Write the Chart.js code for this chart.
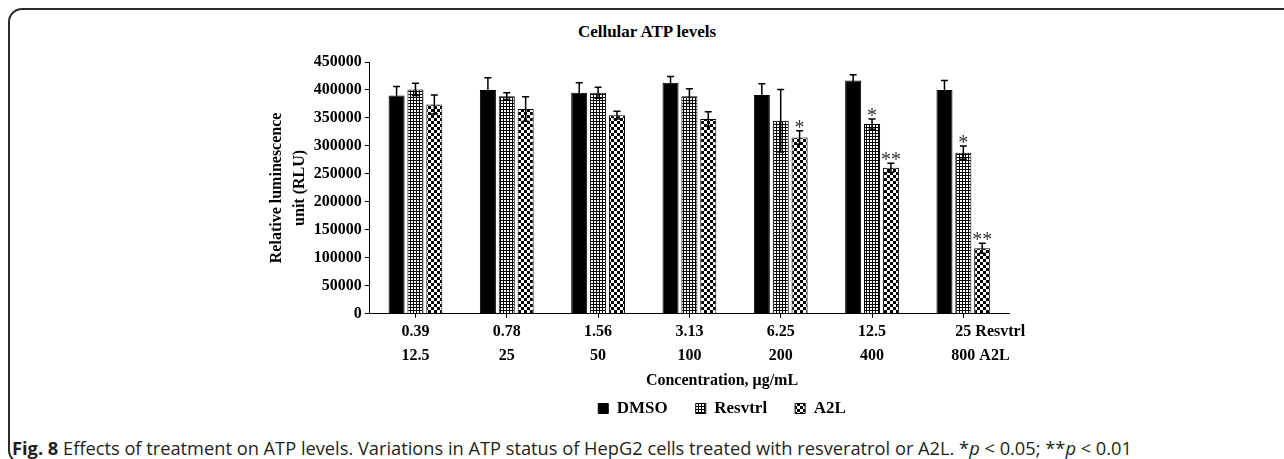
<!DOCTYPE html>
<html>
<head>
<meta charset="utf-8">
<script src="https://cdn.jsdelivr.net/npm/chart.js@4.4.1/dist/chart.umd.min.js"></script>
<style>
  html, body { margin: 0; padding: 0; background: #fff; }
  body { width: 1284px; height: 459px; position: relative; overflow: hidden; }
  #frame {
    position: absolute; left: 8px; top: 8px; width: 1300px; height: 456px;
    border: 2px solid #2b2b2b; border-radius: 14px; box-sizing: border-box;
  }
  #title {
    position: absolute; top: 22px; left: 447px; width: 400px; text-align: center;
    font: bold 17px "Liberation Serif", serif; color: #000;
  }
  #wrap { position: absolute; left: 200px; top: 40px; width: 1044px; height: 387px; }
  #caption {
    position: absolute; left: 12px; top: 435px; white-space: nowrap;
    font: 18.25px "Open Sans", sans-serif; color: #231f20;
  }
  #caption b { font-weight: 700; }
</style>
</head>
<body>
<div id="frame"></div>
<div id="title">Cellular ATP levels</div>
<div id="wrap"><canvas id="atpChart"></canvas></div>
<div id="caption"><b>Fig. 8</b> Effects of treatment on ATP levels. Variations in ATP status of HepG2 cells treated with resveratrol or A2L. *<i>p</i> &lt; 0.05; **<i>p</i> &lt; 0.01</div>

<script>
// concentrations (µg/mL): resveratrol row and A2L row
const resvConc = ['0.39', '0.78', '1.56', '3.13', '6.25', '12.5', '25'];
const a2lConc = ['12.5', '25', '50', '100', '200', '400', '800'];

// relative luminescence (RLU)
const dmsoVals = [390000, 400000, 395000, 413000, 391000, 417000, 400000];
const dmsoErr = [16000, 22000, 18000, 11000, 20000, 10000, 17000];
const resvVals = [401000, 389000, 395000, 389000, 345000, 339000, 288000];
const resvErr = [11000, 6000, 10000, 13000, 56000, 9000, 12000];
const a2lVals = [374000, 366000, 355000, 348000, 315000, 261000, 117000];
const a2lErr = [17000, 22000, 7000, 13000, 12000, 8000, 9000];

// significance marks
const dmsoSig = ['', '', '', '', '', '', ''];
const resvSig = ['', '', '', '', '', '*', '*'];
const a2lSig = ['', '', '', '', '*', '**', '**'];

const yTicks = [0, 50000, 100000, 150000, 200000, 250000, 300000, 350000, 400000, 450000];

const serif = '"Liberation Serif", "Times New Roman", serif';

function makePattern(kind) {
    const c = document.createElement('canvas');
    const ctx = c.getContext('2d');
    if (kind === 'grid') {
        c.width = 3; c.height = 3;
        ctx.fillStyle = '#fff';
        ctx.fillRect(0, 0, 3, 3);
        ctx.fillStyle = '#000';
        ctx.fillRect(0, 0, 3, 1);
        ctx.fillRect(0, 0, 1, 3);
    } else {
        c.width = 6; c.height = 6;
        ctx.fillStyle = '#fff';
        ctx.fillRect(0, 0, 6, 6);
        ctx.fillStyle = '#000';
        ctx.fillRect(0, 0, 3, 3);
        ctx.fillRect(3, 3, 3, 3);
    }
    return ctx.createPattern(c, 'repeat');
}

// error bars, asterisks and the "Resvtrl"/"A2L" row names
const extras = {
    id: 'extras',
    afterLayout(chart) {
        // legend (with the axis caption as its title) is centred on the whole canvas
        const lg = chart.legend;
        const shift = chart.width / 2 - (lg.left + lg.right) / 2;
        lg.left += shift;
        lg.right += shift;
    },
    afterDatasetsDraw(chart) {
        const ctx = chart.ctx;
        const y = chart.scales.y;
        ctx.save();
        chart.data.datasets.forEach((ds, i) => {
            const meta = chart.getDatasetMeta(i);
            meta.data.forEach((bar, j) => {
                const v = ds.data[j], e = ds.errors[j];
                const top = y.getPixelForValue(v + e);
                const bot = y.getPixelForValue(v - e);
                const x = bar.x;
                ctx.strokeStyle = '#000';
                ctx.lineWidth = 1.5;
                ctx.beginPath();
                ctx.moveTo(x, top); ctx.lineTo(x, bot);
                ctx.moveTo(x - 3.5, top); ctx.lineTo(x + 3.5, top);
                ctx.moveTo(x - 3.5, bot); ctx.lineTo(x + 3.5, bot);
                ctx.stroke();
                if (ds.sig[j]) {
                    ctx.fillStyle = '#333';
                    ctx.font = '20px ' + serif;
                    ctx.textAlign = 'center';
                    ctx.textBaseline = 'alphabetic';
                    ctx.fillText(ds.sig[j], x, top + 3);
                }
            });
        });
        ctx.restore();
    },
    afterDraw(chart) {
        const ctx = chart.ctx;
        const xs = chart.scales.x;
        const last = resvConc.length - 1;
        const cx = xs.getPixelForTick(last);
        ctx.save();
        ctx.font = 'bold 16px ' + serif;
        ctx.fillStyle = '#000';
        ctx.textBaseline = 'middle';
        ctx.textAlign = 'left';
        const y1 = xs.top + 4 + 2 + 12;
        const w1 = ctx.measureText(resvConc[last]).width;
        const w2 = ctx.measureText(a2lConc[last]).width;
        ctx.fillText('Resvtrl', cx + w1 / 2 + 4, y1);
        ctx.fillText('A2L', cx + w2 / 2 + 4, y1 + 24);
        ctx.restore();
    }
};

const ctx = document.getElementById('atpChart').getContext('2d');
new Chart(ctx, {
    type: 'bar',
    data: {
        labels: resvConc.map((r, i) => [r, a2lConc[i]]),
        datasets: [
            { label: 'DMSO', data: dmsoVals, errors: dmsoErr, sig: dmsoSig,
              backgroundColor: '#000', borderColor: '#000', borderWidth: 1 },
            { label: 'Resvtrl', data: resvVals, errors: resvErr, sig: resvSig,
              backgroundColor: makePattern('grid'), borderColor: '#000', borderWidth: 1 },
            { label: 'A2L', data: a2lVals, errors: a2lErr, sig: a2lSig,
              backgroundColor: makePattern('check'), borderColor: '#000', borderWidth: 1 }
        ]
    },
    options: {
        responsive: true,
        maintainAspectRatio: false,
        animation: false,
        datasets: { bar: { categoryPercentage: 0.62, barPercentage: 0.85 } },
        layout: { padding: { top: 22, left: 66, right: 235, bottom: 0 } },
        plugins: {
            tooltip: { enabled: false },
            legend: {
                position: 'bottom',
                title: {
                    display: true,
                    text: 'Concentration, μg/mL',
                    color: '#000',
                    font: { family: serif, size: 16, weight: 'bold' },
                    padding: { top: 3, bottom: -20 }
                },
                labels: {
                    color: '#000',
                    boxWidth: 10,
                    boxHeight: 10,
                    padding: 28,
                    font: { family: serif, size: 17, weight: 'bold' }
                }
            }
        },
        scales: {
            x: {
                grid: { display: true, drawOnChartArea: false, offset: false, color: '#000', tickLength: 4 },
                border: { color: '#000', width: 1 },
                ticks: {
                    color: '#000', padding: 2, maxRotation: 0, autoSkip: false,
                    font: { family: serif, size: 16, weight: 'bold', lineHeight: 1.5 }
                }
            },
            y: {
                min: 0,
                max: 450000,
                afterBuildTicks: (scale) => { scale.ticks = yTicks.map(v => ({ value: v })); },
                grid: { display: true, drawOnChartArea: false, color: '#000', tickLength: 5 },
                border: { color: '#000', width: 1 },
                ticks: {
                    color: '#000', padding: 3,
                    font: { family: serif, size: 16, weight: 'bold' },
                    callback: (v) => String(v)
                },
                title: {
                    display: true,
                    text: ['Relative luminescence', 'unit (RLU)'],
                    color: '#000',
                    font: { family: serif, size: 16, weight: 'bold', lineHeight: 1.4 },
                    padding: { top: 0, bottom: 0 }
                }
            }
        }
    },
    plugins: [extras]
});
</script>
</body>
</html>
